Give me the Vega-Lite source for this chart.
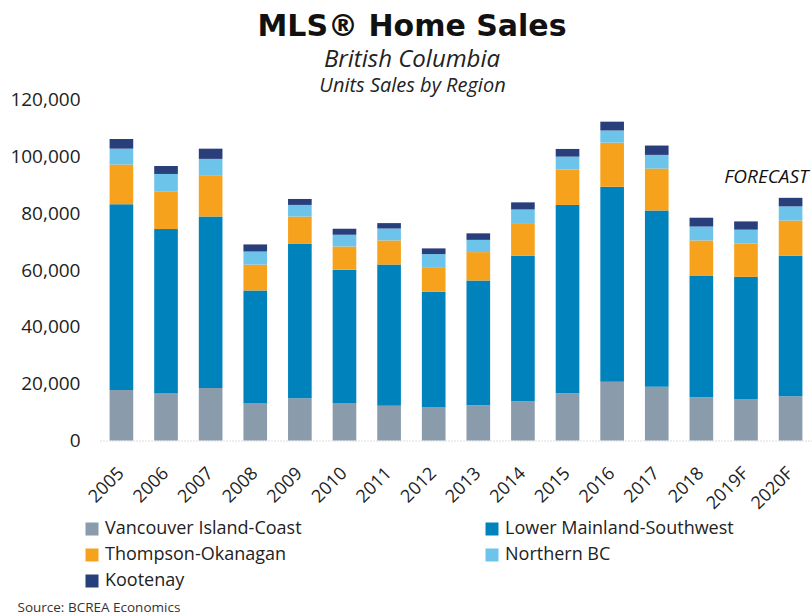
{
  "$schema": "https://vega.github.io/schema/vega-lite/v6.json",
  "width": 712,
  "height": 341,
  "autosize": {"type": "none"},
  "padding": {"left": 100, "top": 99.5, "right": 0, "bottom": 175.5},
  "background": "white",
  "config": {"view": {"stroke": null}, "font": "Open Sans"},
  "title": {
    "text": "MLS® Home Sales",
    "subtitle": "British Columbia",
    "font": "DejaVu Sans",
    "fontSize": 30,
    "fontWeight": "bold",
    "color": "#111111",
    "subtitleFont": "Open Sans",
    "subtitleFontStyle": "italic",
    "subtitleFontSize": 24,
    "subtitleColor": "#222222",
    "subtitlePadding": 6,
    "anchor": "middle",
    "dx": -44,
    "offset": 4
  },
  "datasets": {
    "regions": [
      {"region": "Vancouver Island-Coast", "rank": 1},
      {"region": "Lower Mainland-Southwest", "rank": 2},
      {"region": "Thompson-Okanagan", "rank": 3},
      {"region": "Northern BC", "rank": 4},
      {"region": "Kootenay", "rank": 5}
    ]
  },
  "data": {
    "values": [
      {"year": "2005", "region": "Vancouver Island-Coast", "units": 17800},
      {"year": "2005", "region": "Lower Mainland-Southwest", "units": 65300},
      {"year": "2005", "region": "Thompson-Okanagan", "units": 14000},
      {"year": "2005", "region": "Northern BC", "units": 5600},
      {"year": "2005", "region": "Kootenay", "units": 3400},
      {"year": "2006", "region": "Vancouver Island-Coast", "units": 16500},
      {"year": "2006", "region": "Lower Mainland-Southwest", "units": 57900},
      {"year": "2006", "region": "Thompson-Okanagan", "units": 13300},
      {"year": "2006", "region": "Northern BC", "units": 6100},
      {"year": "2006", "region": "Kootenay", "units": 2800},
      {"year": "2007", "region": "Vancouver Island-Coast", "units": 18500},
      {"year": "2007", "region": "Lower Mainland-Southwest", "units": 60300},
      {"year": "2007", "region": "Thompson-Okanagan", "units": 14500},
      {"year": "2007", "region": "Northern BC", "units": 5800},
      {"year": "2007", "region": "Kootenay", "units": 3600},
      {"year": "2008", "region": "Vancouver Island-Coast", "units": 13000},
      {"year": "2008", "region": "Lower Mainland-Southwest", "units": 39800},
      {"year": "2008", "region": "Thompson-Okanagan", "units": 9100},
      {"year": "2008", "region": "Northern BC", "units": 4600},
      {"year": "2008", "region": "Kootenay", "units": 2500},
      {"year": "2009", "region": "Vancouver Island-Coast", "units": 14900},
      {"year": "2009", "region": "Lower Mainland-Southwest", "units": 54300},
      {"year": "2009", "region": "Thompson-Okanagan", "units": 9600},
      {"year": "2009", "region": "Northern BC", "units": 4100},
      {"year": "2009", "region": "Kootenay", "units": 2100},
      {"year": "2010", "region": "Vancouver Island-Coast", "units": 13000},
      {"year": "2010", "region": "Lower Mainland-Southwest", "units": 47100},
      {"year": "2010", "region": "Thompson-Okanagan", "units": 8200},
      {"year": "2010", "region": "Northern BC", "units": 4100},
      {"year": "2010", "region": "Kootenay", "units": 2100},
      {"year": "2011", "region": "Vancouver Island-Coast", "units": 12200},
      {"year": "2011", "region": "Lower Mainland-Southwest", "units": 49700},
      {"year": "2011", "region": "Thompson-Okanagan", "units": 8500},
      {"year": "2011", "region": "Northern BC", "units": 4200},
      {"year": "2011", "region": "Kootenay", "units": 1900},
      {"year": "2012", "region": "Vancouver Island-Coast", "units": 11600},
      {"year": "2012", "region": "Lower Mainland-Southwest", "units": 40700},
      {"year": "2012", "region": "Thompson-Okanagan", "units": 8700},
      {"year": "2012", "region": "Northern BC", "units": 4600},
      {"year": "2012", "region": "Kootenay", "units": 2000},
      {"year": "2013", "region": "Vancouver Island-Coast", "units": 12400},
      {"year": "2013", "region": "Lower Mainland-Southwest", "units": 43900},
      {"year": "2013", "region": "Thompson-Okanagan", "units": 10000},
      {"year": "2013", "region": "Northern BC", "units": 4300},
      {"year": "2013", "region": "Kootenay", "units": 2300},
      {"year": "2014", "region": "Vancouver Island-Coast", "units": 13700},
      {"year": "2014", "region": "Lower Mainland-Southwest", "units": 51300},
      {"year": "2014", "region": "Thompson-Okanagan", "units": 11500},
      {"year": "2014", "region": "Northern BC", "units": 4800},
      {"year": "2014", "region": "Kootenay", "units": 2500},
      {"year": "2015", "region": "Vancouver Island-Coast", "units": 16600},
      {"year": "2015", "region": "Lower Mainland-Southwest", "units": 66300},
      {"year": "2015", "region": "Thompson-Okanagan", "units": 12500},
      {"year": "2015", "region": "Northern BC", "units": 4500},
      {"year": "2015", "region": "Kootenay", "units": 2700},
      {"year": "2016", "region": "Vancouver Island-Coast", "units": 20700},
      {"year": "2016", "region": "Lower Mainland-Southwest", "units": 68600},
      {"year": "2016", "region": "Thompson-Okanagan", "units": 15500},
      {"year": "2016", "region": "Northern BC", "units": 4300},
      {"year": "2016", "region": "Kootenay", "units": 3100},
      {"year": "2017", "region": "Vancouver Island-Coast", "units": 18900},
      {"year": "2017", "region": "Lower Mainland-Southwest", "units": 62000},
      {"year": "2017", "region": "Thompson-Okanagan", "units": 14800},
      {"year": "2017", "region": "Northern BC", "units": 4800},
      {"year": "2017", "region": "Kootenay", "units": 3300},
      {"year": "2018", "region": "Vancouver Island-Coast", "units": 15200},
      {"year": "2018", "region": "Lower Mainland-Southwest", "units": 42900},
      {"year": "2018", "region": "Thompson-Okanagan", "units": 12300},
      {"year": "2018", "region": "Northern BC", "units": 4900},
      {"year": "2018", "region": "Kootenay", "units": 3100},
      {"year": "2019F", "region": "Vancouver Island-Coast", "units": 14600},
      {"year": "2019F", "region": "Lower Mainland-Southwest", "units": 43000},
      {"year": "2019F", "region": "Thompson-Okanagan", "units": 11700},
      {"year": "2019F", "region": "Northern BC", "units": 4900},
      {"year": "2019F", "region": "Kootenay", "units": 2900},
      {"year": "2020F", "region": "Vancouver Island-Coast", "units": 15600},
      {"year": "2020F", "region": "Lower Mainland-Southwest", "units": 49400},
      {"year": "2020F", "region": "Thompson-Okanagan", "units": 12400},
      {"year": "2020F", "region": "Northern BC", "units": 5000},
      {"year": "2020F", "region": "Kootenay", "units": 3000}
    ]
  },
  "layer": [
    {
      "transform": [
        {"lookup": "region", "from": {"data": {"name": "regions"}, "key": "region", "fields": ["rank"]}}
      ],
      "mark": {"type": "bar"},
      "encoding": {
        "x": {
          "field": "year",
          "type": "nominal",
          "sort": null,
          "scale": {"paddingInner": 0.47, "paddingOuter": 0.215},
          "axis": {
            "title": "Source: BCREA Economics",
            "titleX": -83,
            "titleY": 170.5,
            "titleAlign": "left",
            "titleAnchor": "start",
            "titleBaseline": "alphabetic",
            "titleAngle": 0,
            "titleFont": "Open Sans",
            "titleFontSize": 13.5,
            "titleFontWeight": "normal",
            "titleColor": "#333333",
            "labelAngle": -45,
            "labelAlign": "right",
            "labelBaseline": "middle",
            "labelFont": "Open Sans",
            "labelFontSize": 18,
            "labelColor": "#222222",
            "labelPadding": 30,
            "ticks": false,
            "tickSize": 0,
            "domain": true,
            "domainColor": "#bbbbbb",
            "domainDash": [1, 2],
            "domainWidth": 1,
            "grid": false
          }
        },
        "y": {
          "field": "units",
          "type": "quantitative",
          "stack": "zero",
          "scale": {"domain": [0, 120000], "nice": false},
          "axis": {
            "title": "Units Sales by Region",
            "titleX": 312,
            "titleY": -8,
            "titleAngle": 0,
            "titleAlign": "center",
            "titleBaseline": "alphabetic",
            "titleFont": "Open Sans",
            "titleFontStyle": "italic",
            "titleFontSize": 20,
            "titleFontWeight": "normal",
            "titleColor": "#222222",
            "values": [0, 20000, 40000, 60000, 80000, 100000, 120000],
            "format": ",.0f",
            "labelFont": "Open Sans",
            "labelFontSize": 19,
            "labelColor": "#222222",
            "labelPadding": 20,
            "ticks": false,
            "tickSize": 0,
            "domain": false,
            "grid": false
          }
        },
        "order": {"field": "rank", "type": "quantitative", "sort": "ascending"},
        "color": {
          "field": "region",
          "type": "nominal",
          "sort": ["Vancouver Island-Coast", "Lower Mainland-Southwest", "Thompson-Okanagan", "Northern BC", "Kootenay"],
          "scale": {
            "domain": ["Vancouver Island-Coast", "Lower Mainland-Southwest", "Thompson-Okanagan", "Northern BC", "Kootenay"],
            "range": ["#8a9bab", "#0083bd", "#f7a21c", "#6cc4ea", "#283f7b"]
          },
          "legend": {
            "orient": "none",
            "legendX": -17,
            "legendY": 420.5,
            "direction": "horizontal",
            "columns": 2,
            "columnPadding": 181,
            "rowPadding": 8,
            "title": null,
            "symbolType": "square",
            "symbolSize": 169,
            "symbolStrokeWidth": 0,
            "symbolOpacity": 1,
            "labelFont": "Open Sans",
            "labelFontSize": 18,
            "labelColor": "#222222",
            "labelOffset": 4,
            "labelLimit": 400
          }
        }
      }
    },
    {
      "data": {"values": [{"year": "2020F", "units": 90600, "label": "FORECAST"}]},
      "mark": {
        "type": "text",
        "align": "right",
        "baseline": "alphabetic",
        "font": "Open Sans",
        "fontStyle": "italic",
        "fontSize": 19,
        "color": "#111111",
        "dx": 18
      },
      "encoding": {
        "x": {"field": "year", "type": "nominal", "sort": null},
        "y": {"field": "units", "type": "quantitative"},
        "text": {"field": "label"}
      }
    }
  ]
}
